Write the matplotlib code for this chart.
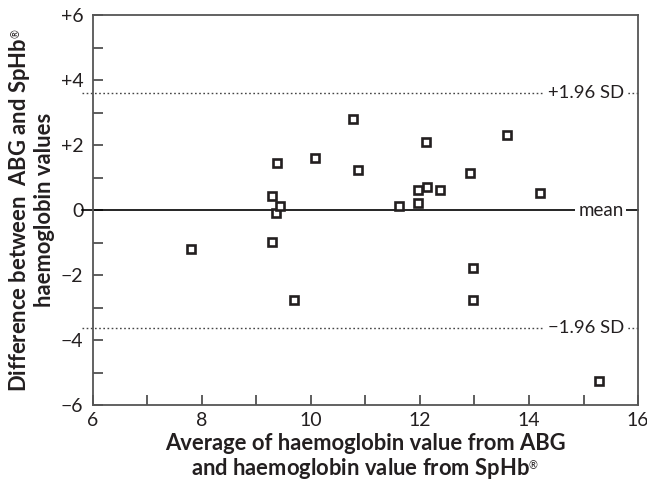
import matplotlib
matplotlib.use("Agg")
import matplotlib.pyplot as plt
import numpy as np

# ---- data ----
avg_hb = [7.79, 9.28, 9.28, 9.35, 9.43, 9.38, 9.69, 10.08, 10.77, 10.87,
          11.62, 11.96, 11.96, 12.12, 12.11, 12.37, 12.92, 12.97, 12.97,
          13.60, 14.20, 15.28]
diff_hb = [-1.19, -0.99, 0.43, -0.09, 0.12, 1.44, -2.78, 1.60, 2.81, 1.23,
           0.12, 0.63, 0.23, 0.72, 2.10, 0.63, 1.13, -1.77, -2.78,
           2.32, 0.52, -5.27]
mean_diff = 0.0
upper_loa = 3.61
lower_loa = -3.64
xticks = [6, 8, 10, 12, 14, 16]
yticks = [6, 4, 2, 0, -2, -4, -6]
ytick_labels = ['+6', '+4', '+2', '0', '\u22122', '\u22124', '\u22126']

TXT = '#231f20'
plt.rcParams['font.family'] = ['Lato', 'DejaVu Sans']
plt.rcParams['mathtext.fontset'] = 'custom'
plt.rcParams['mathtext.rm'] = 'Lato'
plt.rcParams['mathtext.bf'] = 'Lato:bold'

fig = plt.figure(figsize=(6.47, 4.84), dpi=100)
ax = fig.add_axes([93/647, 1-405/484, 545/647, 390/484])
ax.set_xlim(6, 16)
ax.set_ylim(-6, 6)

# reference lines
ytr = ax.get_yaxis_transform()
ax.plot([-0.02, 1.0], [mean_diff, mean_diff], color='black', lw=1.2,
        transform=ytr, clip_on=False, zorder=2)
for v in (upper_loa, lower_loa):
    ax.plot([-0.02, 1.0], [v, v], color='#444444', lw=1.0, ls=(0, (1.2, 1.8)),
            transform=ytr, clip_on=False, zorder=2)

bbox = dict(facecolor='white', edgecolor='none', pad=2.0)
ax.text(0.904, upper_loa, '+1.96 SD', transform=ytr, ha='center', va='center',
        fontsize=13.3, color=TXT, bbox=bbox, zorder=3)
ax.text(0.904, lower_loa, '\u22121.96 SD', transform=ytr, ha='center', va='center',
        fontsize=13.3, color=TXT, bbox=bbox, zorder=3)
ax.text(0.932, mean_diff, 'mean', transform=ytr, ha='center', va='center',
        fontsize=13.5, color=TXT, bbox=bbox, zorder=3)

ax.plot(avg_hb, diff_hb, ls='none', marker='s', markersize=6.4,
        markerfacecolor='white', markeredgecolor='#231f20', markeredgewidth=1.9,
        zorder=4)

# axes styling
for s in ax.spines.values():
    s.set_color('#555555')
    s.set_linewidth(1.3)
ax.set_xticks(np.arange(6, 17, 1), minor=False)
ax.set_xticklabels([str(t) if t in xticks else '' for t in range(6, 17)])
ax.set_yticks(yticks)
ax.set_yticklabels(ytick_labels)
ax.set_yticks(np.arange(-5, 6, 2), minor=True)
ax.tick_params(axis='both', which='both', direction='in', length=7.5, width=1.1,
               color='#333333', labelsize=14, labelcolor=TXT, top=False, right=False)
ax.tick_params(axis='x', pad=5)
ax.tick_params(axis='y', pad=7)

sup = '$^{{}_{\u00ae}}$'
ax.set_xlabel('Average of haemoglobin value from ABG\nand haemoglobin value from SpHb' + sup,
              fontsize=15.8, fontweight='bold', color=TXT, linespacing=1.12, labelpad=3)
ax.set_ylabel('Difference between  ABG and SpHb' + sup + '\nhaemoglobin values',
              fontsize=15.8, fontweight='bold', color=TXT, linespacing=1.12, labelpad=4)

fig.savefig('out.png', dpi=100)
